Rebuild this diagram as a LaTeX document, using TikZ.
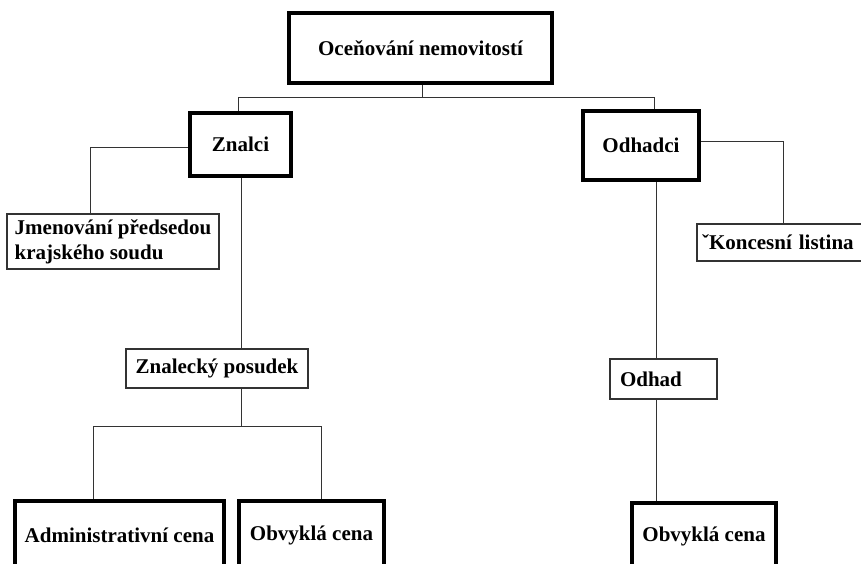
\documentclass[tikz,border=0pt]{standalone}
\usepackage{fontspec}
\setmainfont{Liberation Serif}
\begin{document}
\begin{tikzpicture}[x=1pt,y=-1pt,
  txt/.style={font=\fontsize{21}{25}\selectfont\bfseries, text=black},
  thickbox/.style={txt, draw=black, line width=4pt, inner sep=0pt},
  thinbox/.style={txt, draw=black!80, line width=1.3pt, inner sep=0pt},
  conn/.style={draw=black!80, line width=1pt}]
\useasboundingbox (0,0) rectangle (861,563);
\fill[white] (0,0) rectangle (861,563);
\clip (0,0) rectangle (861,563);

% boxes
\node[thickbox, minimum width=263pt, minimum height=70pt] (top) at (420.5,48) {Oceňování nemovitostí};
\node[thickbox, minimum width=101pt, minimum height=63pt] (znalci) at (240.5,144.5) {Znalci};
\node[thickbox, minimum width=116pt, minimum height=69pt] (odhadci) at (641,145.5) {Odhadci};
\node[thinbox, minimum width=212pt, minimum height=55pt, align=left] (jmen) at (113,241.5) {Jmenování předsedou\\krajského soudu};
\node[thinbox, minimum width=183pt, minimum height=37pt, inner xsep=5pt, text width=173pt, align=left] (konc) at (788.5,242.5) {ˇKoncesní listina};
\node[thinbox, minimum width=182pt, minimum height=39pt] (posudek) at (217,368.5) {Znalecký posudek};
\node[thinbox, minimum width=107pt, minimum height=40pt, inner xsep=10pt, text width=87pt, align=left] (odhad) at (663.5,379) {Odhad};
\node[thickbox, minimum width=209pt, minimum height=69pt] (admin) at (119.5,535.5) {Administrativní cena};
\node[thickbox, minimum width=145pt, minimum height=69pt] (obv1) at (311.5,535.5) {Obvyklá cena};
\node[thickbox, minimum width=144pt, minimum height=67pt] (obv2) at (704,536.5) {Obvyklá cena};

% connector helper points
\coordinate (hub) at (422,97);
\coordinate (jL) at (238,97);
\coordinate (jR) at (654,97);
\coordinate (k1) at (90,147);
\coordinate (k2) at (241,426);
\coordinate (k3) at (93,426);
\coordinate (k4) at (321,426);
\coordinate (k5) at (783,141);
\coordinate (k6) at (656,380);

% connectors
\draw[conn] (top.south -| hub) -- (hub);
\draw[conn] (znalci.north -| jL) -- (jL) -- (jR) -- (odhadci.north -| jR);
\draw[conn] (znalci.west |- k1) -- (k1) -- (jmen.north -| k1);
\draw[conn] (znalci.south -| k2) -- (posudek.north -| k2);
\draw[conn] (posudek.south -| k2) -- (k2);
\draw[conn] (admin.north -| k3) -- (k3) -- (k4) -- (obv1.north -| k4);
\draw[conn] (odhadci.east |- k5) -- (k5) -- (konc.north -| k5);
\draw[conn] (odhadci.south -| k6) -- (odhad.north -| k6);
\draw[conn] (odhad.south -| k6) -- (obv2.north -| k6);
\end{tikzpicture}
\end{document}
